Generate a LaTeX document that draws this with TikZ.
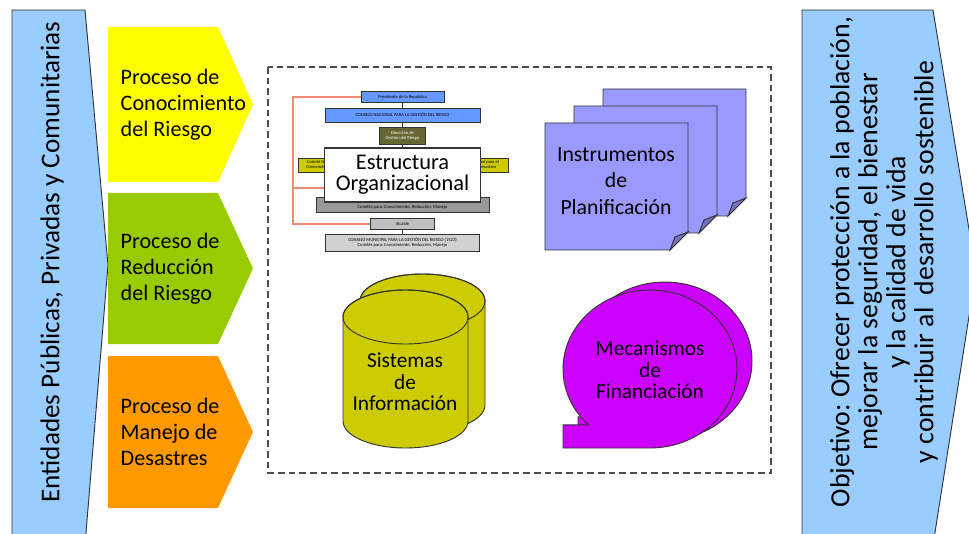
\documentclass[tikz,border=0pt]{standalone}
\usepackage{fontspec}
\setmainfont{Carlito}
\usepackage{tikz}
\usetikzlibrary{positioning,calc}
\frenchspacing

\definecolor{hellblau}{RGB}{153,204,255}
\definecolor{gelb}{RGB}{255,255,0}
\definecolor{gruen}{RGB}{153,204,0}
\definecolor{orangeton}{RGB}{255,153,0}
\definecolor{lila}{RGB}{153,153,255}
\definecolor{oliv}{RGB}{204,204,0}
\definecolor{violett}{RGB}{204,0,255}
\definecolor{orgblau}{RGB}{102,153,255}
\definecolor{orgoliv}{RGB}{102,102,51}
\definecolor{orglinie}{RGB}{240,140,110}

\newcommand{\pxe}{0.75pt}

\tikzset{
  orgbox/.style={draw=black!80, line width=0.6pt, fill=#1, inner sep=0pt, align=center,
    font=\fontsize{3.4}{3.9}\selectfont},
  pfeiltext/.style={anchor=west, align=left, font=\fontsize{16.6}{19.5}\selectfont},
  inhalttext/.style={align=center, font=\fontsize{16.3}{20}\selectfont},
  kleintext/.style={align=center, font=\fontsize{16}{16.3}\selectfont},
  rand/.style={draw=black!80, line width=0.7pt},
}

\begin{document}
\begin{tikzpicture}[x=0.75pt,y=-0.75pt]
\useasboundingbox (0,0) rectangle (969,534);
\clip (0,0) rectangle (969,534);
%Akteure links, Ziel rechts
\draw[rand, fill=hellblau] (12,10) -- (85,10) -- (108,265) -- (85,545) -- (12,545) -- cycle;
\node[rotate=90, font=\fontsize{20.4}{24}\selectfont] (entidades) at (52,262) {Entidades Públicas, Privadas y Comunitarias};
\draw[rand, fill=hellblau] (802,10) -- (933,10) -- (976,272) -- (933,545) -- (802,545) -- cycle;
\node[rotate=90, align=center, font=\fontsize{20.8}{21}\selectfont] (objetivo) at (884,262)
  {Objetivo: Ofrecer protección a la población,\\ mejorar la seguridad, el bienestar\\ y la calidad de vida\\ y contribuir al\ \ desarrollo sostenible};
%Prozesse
\foreach \oben/\unten/\farbe/\name/\inhalt in {27/182/gelb/conocimiento/{Proceso de\\Conocimiento\\del Riesgo},
  193/344/gruen/reduccion/{Proceso de\\Reducción\\del Riesgo},
  356/508/orangeton/manejo/{Proceso de\\Manejo de\\Desastres}}{
  \pgfmathsetmacro{\mitte}{(\oben+\unten)/2}
  \fill[\farbe] (108,\oben) -- (218,\oben) -- (253,\mitte) -- (218,\unten) -- (108,\unten) -- cycle;
  \node[pfeiltext] (\name) at (116,\mitte) {\inhalt};
}
\draw[black!70, line width=1.2pt, dash pattern=on 5pt off 3pt] (268,67) rectangle (771,473);
%Organigramm
\coordinate (orgknick) at (293,188);
\node[orgbox=orgblau, minimum width=83*\pxe, minimum height=11*\pxe] (praesident) at (402.5,97) {Presidente de la República};
\node[orgbox=orgblau, minimum width=155*\pxe, minimum height=14*\pxe] (consejonac) at (402.5,115) {CONSEJO NACIONAL PARA LA GESTIÓN DEL RIESGO};
\node[orgbox=orgoliv, text=white, minimum width=46*\pxe, minimum height=17*\pxe] (direccion) at (402.5,135.5) {Dirección de\\Gestión del Riesgo};
\node[orgbox=oliv, minimum width=62*\pxe, minimum height=14*\pxe] (comiteconoc) at (329,165) {Comité Nacional para el\\Conocimiento del Riesgo};
\node[orgbox=oliv, minimum width=62*\pxe, minimum height=14*\pxe] (comitemanejo) at (477,165) {Comité Nacional para el\\Manejo de Desastres};
\node[orgbox=black!40, minimum width=173*\pxe, minimum height=15*\pxe] (consejodep) at (402.5,204.5) {CONSEJO DEPARTAMENTAL PARA LA GESTIÓN DEL RIESGO (1523)\\Comités para: Conocimiento, Reducción, Manejo};
\node[orgbox=black!25, minimum width=64*\pxe, minimum height=11*\pxe] (alcalde) at (402.5,224) {Alcalde};
\node[orgbox=black!18, minimum width=154*\pxe, minimum height=17*\pxe] (consejomun) at (402.5,242.5) {CONSEJO MUNICIPAL PARA LA GESTIÓN DEL RIESGO (1523)\\Comités para: Conocimiento, Reducción, Manejo};
\draw[orglinie, line width=1pt] (praesident.west) -| (orgknick) |- (alcalde.west);
\draw[black!80, line width=0.6pt] (praesident) -- (consejonac);
\draw[black!80, line width=0.6pt] (consejonac) -- (direccion);
\draw[black!80, line width=0.6pt] (alcalde) -- (consejomun);
\node[rand, line width=1pt, fill=white, minimum width=156*\pxe, minimum height=54*\pxe, align=center,
  font=\fontsize{16.8}{16}\selectfont] (estructura) at (402.5,175) {Estructura\\Organizacional};
\draw[orglinie, line width=1pt] (orgknick) -- (orgknick -| estructura.west);
\draw[black!80, line width=0.6pt] (direccion) -- (estructura);
%Instrumente, drei Blaetter
\foreach \i in {2,1,0}{
  \begin{scope}[shift={(29*\i,-17*\i)}]
    \draw[rand, fill=lila] (545,123) -- (688,123) -- (688,232) -- (670,250) -- (545,250) -- cycle;
    \draw[rand, fill=lila!75!black] (670,250) -- (675,237) -- (688,232) -- cycle;
  \end{scope}
}
\node[inhalttext] (instrumentos) at (616,181) {Instrumentos\\de\\Planificación};
%Zylinder
\foreach \dx/\dy in {17/-16,0/0}{
  \begin{scope}[shift={(\dx,\dy)}]
    \draw[rand, fill=oliv] (343,317) -- (343,421) arc[start angle=180,end angle=0,x radius=62.5,y radius=27]
      -- (468,317) arc[start angle=0,end angle=-180,x radius=62.5,y radius=27] -- cycle;
    \draw[rand] (405.5,317) ellipse[x radius=62.5,y radius=27];
  \end{scope}
}
\node[kleintext] (sistemas) at (405,382) {Sistemas\\de\\Información};
%Sprechblase
\foreach \dx/\dy in {15/-8,0/0}{
  \begin{scope}[shift={(\dx,\dy)}]
    \draw[rand, fill=violett] (650,369) ++(135:87 and 79) arc[start angle=135,end angle=450,x radius=87,y radius=79]
      -- (563,448) -- (563,424.86) -- cycle;
  \end{scope}
}
\node[kleintext] (mecanismos) at (650,370) {Mecanismos\\de\\Financiación};
\end{tikzpicture}
\end{document}
